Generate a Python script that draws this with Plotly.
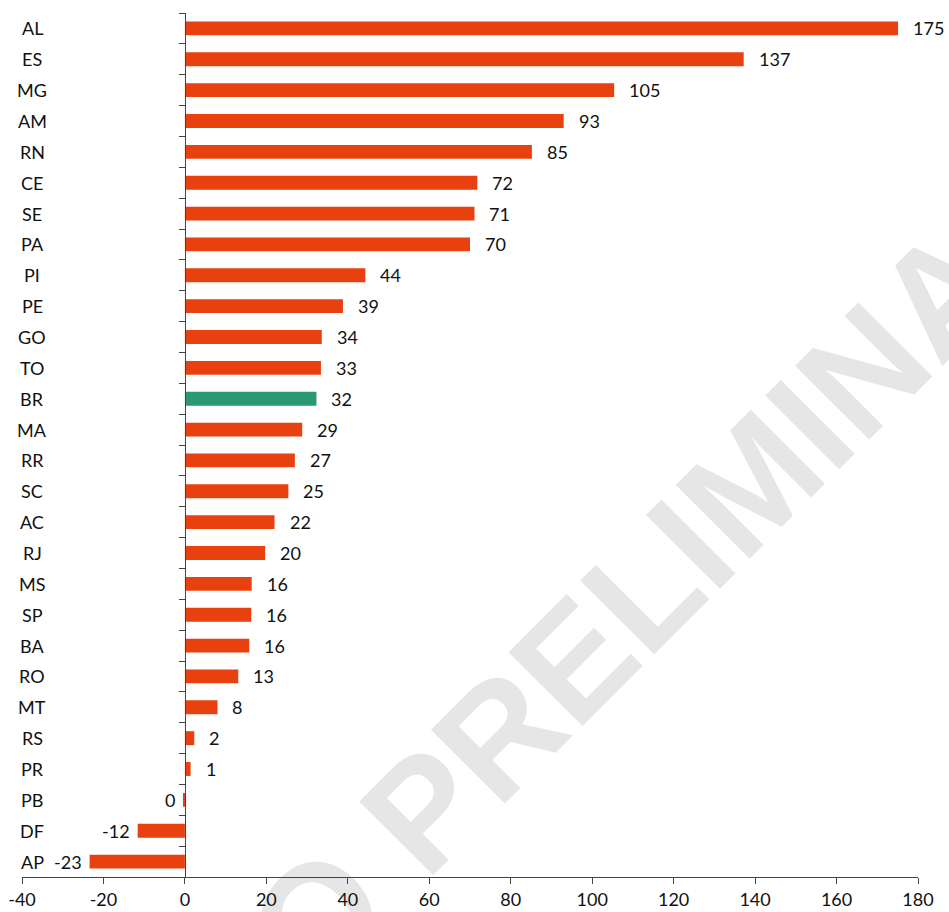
import plotly.graph_objects as go

# Variation by state (top to bottom)
states = ["AL", "ES", "MG", "AM", "RN", "CE", "SE", "PA", "PI", "PE", "GO", "TO", "BR", "MA",
          "RR", "SC", "AC", "RJ", "MS", "SP", "BA", "RO", "MT", "RS", "PR", "PB", "DF", "AP"]
values = [175.1, 137.2, 105.4, 93.0, 85.2, 71.8, 71.1, 70.0, 44.3, 38.8, 33.6, 33.4, 32.3, 28.8,
          27.0, 25.4, 22.0, 19.7, 16.4, 16.3, 15.8, 13.1, 8.0, 2.3, 1.4, -0.4, -11.6, -23.4]
x_ticks = [-40, -20, 0, 20, 40, 60, 80, 100, 120, 140, 160, 180]
x_tick_text = [str(t) for t in x_ticks]
highlight = "BR"
watermark = "DADO PRELIMINAR"

ORANGE = "#E8410F"
GREEN = "#2A9873"
FONT = "Lato"
TXT = "#111111"

colors = [GREEN if s == highlight else ORANGE for s in states]

fig = go.Figure()
fig.add_trace(go.Bar(
    x=values, y=states, orientation="h",
    marker=dict(color=colors, line=dict(width=0)),
    hoverinfo="x+y", showlegend=False,
))

# value labels at the bar ends
for s, v in zip(states, values):
    label = f"{int(round(v))}"
    if v >= 0:
        fig.add_annotation(x=v, y=s, text=label, showarrow=False, xanchor="left",
                           xshift=13, font=dict(family=FONT, size=18, color=TXT))
    else:
        fig.add_annotation(x=v, y=s, text=label, showarrow=False, xanchor="right",
                           xshift=-6, font=dict(family=FONT, size=18, color=TXT))

# category labels on the far left
for s in states:
    fig.add_annotation(x=0.0117, xref="paper", y=s, yref="y", text=s, showarrow=False,
                       xanchor="center", font=dict(family=FONT, size=18, color=TXT))

# diagonal watermark behind the chart
fig.add_shape(
    type="rect", xref="paper", yref="paper",
    x0=0.568, x1=0.588, y0=0.225, y1=0.245,
    line=dict(width=0), fillcolor="rgba(0,0,0,0)", layer="below",
    label=dict(text=watermark, textangle=-45, textposition="middle center",
               font=dict(family="Liberation Sans", size=152, color="#E6E6E6", weight="bold")),
)

fig.update_layout(
    width=949, height=912,
    margin=dict(l=22, r=31, t=13, b=35, autoexpand=False),
    paper_bgcolor="white", plot_bgcolor="rgba(0,0,0,0)",
    bargap=0.55,
    xaxis=dict(
        range=[-40, 180], tickvals=x_ticks, ticktext=x_tick_text, automargin=False,
        showgrid=False, zeroline=False,
        showline=True, linecolor="#444444", linewidth=1.3,
        ticks="outside", ticklen=6, tickcolor="#444444", tickwidth=1.3,
        tickfont=dict(family=FONT, size=18, color=TXT),
    ),
    yaxis=dict(
        categoryorder="array", categoryarray=states, autorange="reversed", automargin=False,
        anchor="free", position=40 / 220, showgrid=False, zeroline=False,
        showline=True, linecolor="#444444", linewidth=1.3,
        ticks="outside", tickson="boundaries", ticklen=6, tickcolor="#444444", tickwidth=1.3,
        showticklabels=False,
    ),
)

fig.write_html("out.html")
